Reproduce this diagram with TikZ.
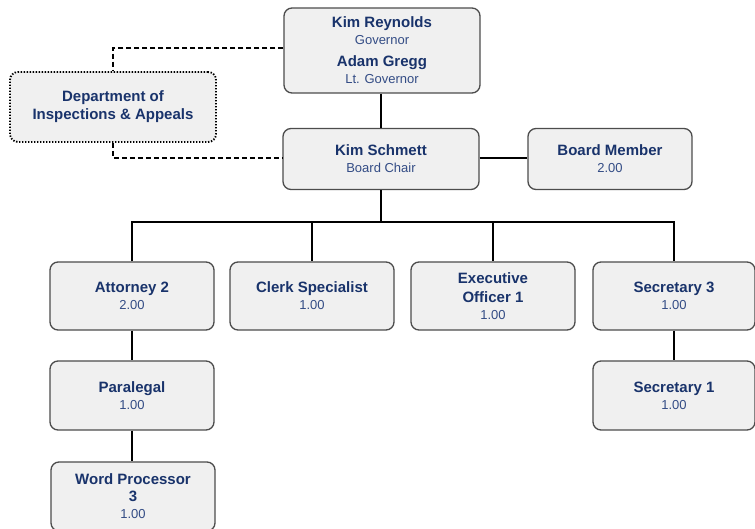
\documentclass[tikz,border=0pt]{standalone}
\usepackage{fontspec}
\setmainfont{Liberation Sans}
\newcommand{\hd}[1]{{\fontsize{15}{17}\selectfont\bfseries\color{navy}#1}}
\begin{document}
\begin{tikzpicture}[x=1pt,y=-1pt]
\definecolor{navy}{rgb}{0.1,0.2,0.42}
\definecolor{subblue}{rgb}{0.2,0.3,0.52}
\definecolor{boxfill}{rgb}{0.94,0.94,0.94}
\definecolor{boxline}{rgb}{0.3,0.3,0.3}
\tikzset{
  box/.style={draw=boxline, fill=boxfill, line width=1.3pt, rounded corners=8pt,
    minimum width=164pt, minimum height=68pt, inner sep=0pt, align=center,
    text=subblue, font=\fontsize{13}{17}\selectfont},
  link/.style={draw, line width=1.8pt},
  dash link/.style={draw, line width=1.8pt, dash pattern=on 5pt off 3pt}
}
\useasboundingbox (0,0) rectangle (755,529);

\node[box, minimum width=196pt, minimum height=85pt] (gov) at (382,50.5) {\hd{Kim Reynolds}\\ Governor\\[5pt] \hd{Adam Gregg}\\ Lt. Governor};
\node[box, minimum width=206pt, minimum height=70pt, draw=black, line width=1.8pt, dash pattern=on 1.4pt off 1.6pt] (dept) at (113,107) {\hd{Department of}\\[1pt] \hd{Inspections \& Appeals}};
\node[box, minimum width=196pt, minimum height=61pt] (chair) at (381,159) {\hd{Kim Schmett}\\ Board Chair};
\node[box, minimum height=61pt] (member) at (610,159) {\hd{Board Member}\\ 2.00};
\node[box] (att) at (132,296) {\hd{Attorney 2}\\ 2.00};
\node[box] (clerk) at (312,296) {\hd{Clerk Specialist}\\ 1.00};
\node[box] (exec) at (493,296) {\hd{Executive}\\[2pt] \hd{Officer 1}\\ 1.00};
\node[box, minimum width=162pt] (sec3) at (674,296) {\hd{Secretary 3}\\ 1.00};
\node[box, minimum height=69pt] (para) at (132,395.5) {\hd{Paralegal}\\ 1.00};
\node[box, minimum height=69pt] (wp) at (133,496.5) {\hd{Word Processor}\\ \hd{3}\\ 1.00};
\node[box, minimum width=162pt, minimum height=69pt] (sec1) at (674,395.5) {\hd{Secretary 1}\\ 1.00};

\coordinate (bus) at (381,222);
\coordinate (upper) at (113,48);
\coordinate (lower) at (113,158);

\path[link] (gov.south -| chair) -- (chair);
\path[link] (chair.east |- lower) -- (member.west |- lower);
\path[link] (chair) -- (bus);
\path[link] (att.north) -- (att.north |- bus) -- (sec3.north |- bus) -- (sec3.north);
\path[link] (clerk.north |- bus) -- (clerk.north);
\path[link] (exec.north |- bus) -- (exec.north);
\path[link] (att) -- (para);
\path[link] (para.south) -- (para.south |- wp.north);
\path[link] (sec3) -- (sec1);
\path[dash link] (gov.west |- upper) -- (upper) -- (dept.north);
\path[dash link] (dept.south) -- (lower) -- (chair.west |- lower);
\end{tikzpicture}
\end{document}
